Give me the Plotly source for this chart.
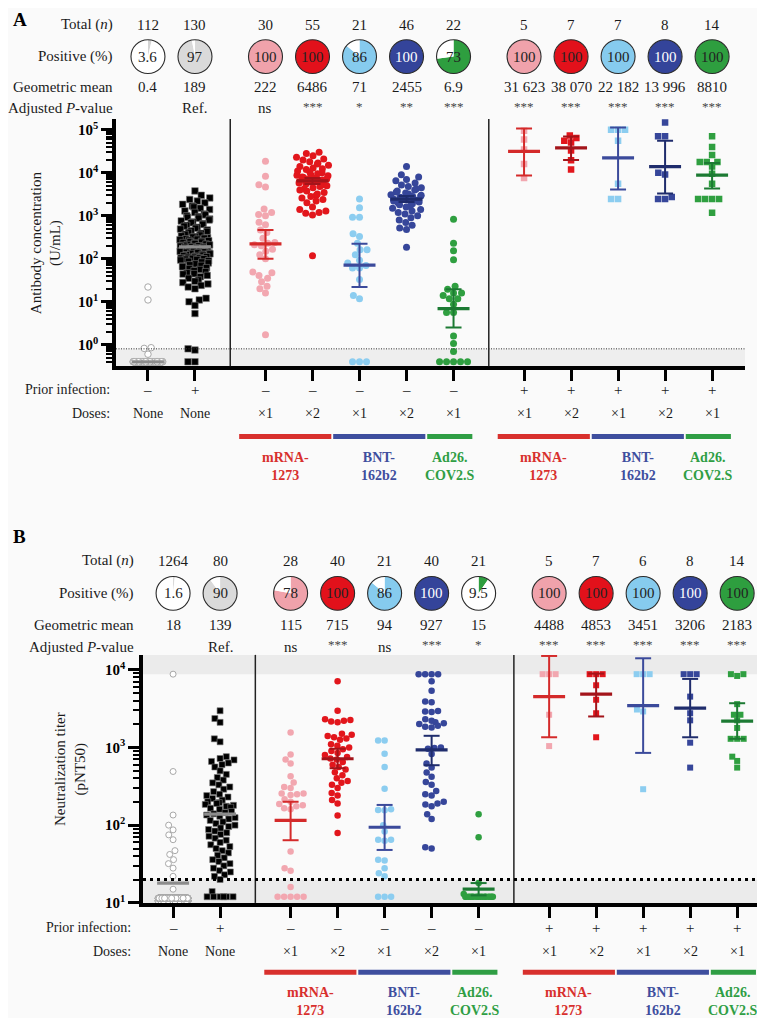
import math
import plotly.graph_objects as go

W, H = 765, 1018
FONT = "Liberation Serif"

# ---------------- data ----------------
PRIOR_INFECTION = ["–", "+", "–", "–", "–", "–", "–", "+", "+", "+", "+", "+"]
DOSES = ["None", "None", "×1", "×2", "×1", "×2", "×1", "×1", "×2", "×1", "×2", "×1"]
VACCINE_NAMES = ["mRNA-<br>1273", "BNT-<br>162b2", "Ad26.<br>COV2.S"]
ROW_LABELS = ["Total (<i>n</i>)", "Positive (%)", "Geometric mean", "Adjusted <i>P</i>-value"]

# Panel A: antibody concentration (U/mL)
A_TOTAL = [112, 130, 30, 55, 21, 46, 22, 5, 7, 7, 8, 14]
A_POSITIVE = [3.6, 97, 100, 100, 86, 100, 73, 100, 100, 100, 100, 100]
A_GMEAN = [0.4, 189, 222, 6486, 71, 2455, 6.9, 31623, 38070, 22182, 13996, 8810]
A_CI_LOW = [None, None, 100, 5500, 22, 2080, 2.5, 8700, 20000, 4100, 3300, 4300]
A_CI_HIGH = [None, None, 470, 7600, 222, 2900, 19.5, 107000, 70000, 114000, 56000, 17000]
A_PVALUE = ["", "Ref.", "ns", "***", "*", "**", "***", "***", "***", "***", "***", "***"]
A_CUTOFF = 0.8
A_AXIS_MIN = 0.316

A_NONE_NEG_VISIBLE = [22, 11, 0.85, 0.82, 0.6]
A_NONE_NEG_FLOOR = 0.4
A_NONE_NEG_FLOOR_N = 107
A_NONE_POS = [3800, 3000, 2600, 2400, 2200, 2000, 1850, 1700, 1600, 1500, 1400, 1300, 1200, 1100, 1050,
              1000, 960, 920, 880, 840, 800, 760, 720, 690, 660, 630, 600, 570, 540, 510, 490, 470, 450,
              430, 410, 390, 370, 355, 340, 330, 320, 310, 300,
              292, 285, 278, 270, 263, 256, 250, 244, 238, 232, 226, 220, 215, 210, 205, 200, 196, 192,
              188, 184, 180, 176, 172, 168, 165, 162, 158, 155, 152, 148, 145, 142, 139, 136, 133, 130,
              127, 124, 121, 118, 115, 112, 110, 108, 106, 104, 102, 100, 98, 96,
              93, 90, 87, 84, 80, 76, 72, 70, 68, 65, 62, 59, 56, 53, 50, 47, 45, 44, 41, 38, 35, 32,
              30, 28, 26, 24, 22, 20,
              12, 11, 10, 8.2, 5.3, 0.8, 0.75, 0.4, 0.4]
A_MRNA1_NEG = [18500, 8300, 5300, 4700, 1440, 1200, 1070, 1000, 710, 615, 470, 408, 300, 240, 230,
               212, 200, 167, 150, 124, 100, 49, 47, 41, 35, 29, 23, 20, 16, 1.7]
A_MRNA2_NEG = [30000, 28000, 25000, 23000, 21000, 20000, 18000, 17000, 16000, 15000, 14000, 13000,
               12500, 12000, 11000, 10500, 10000, 9500, 9000, 8800, 8500, 8000, 7800, 7500, 7200, 7000,
               6800, 6500, 6300, 6200, 6000, 5800, 5500, 5300, 5000, 4800, 4500, 4200, 4000, 3800,
               3500, 3200, 3000, 2800, 2600, 2400, 2200, 2000, 1600, 1400, 1300, 1200, 1150, 1050, 118]
A_BNT1_NEG = [2450, 1540, 920, 920, 380, 330, 230, 163, 163, 124, 92, 80, 70, 61, 61, 33, 14, 11.7,
              0.4, 0.4, 0.4]
A_BNT2_NEG = [14000, 9000, 8000, 7000, 6500, 5800, 5200, 4800, 4500, 4200, 4000, 3800, 3600, 3400,
              3200, 3100, 3000, 2900, 2800, 2700, 2600, 2500, 2450, 2400, 2350, 2300, 2200, 2100, 2000,
              1900, 1800, 1700, 1600, 1500, 1400, 1300, 1200, 1100, 1000, 900, 800, 700, 600, 520, 480, 186]
A_AD26_NEG = [830, 230, 154, 95, 23, 19.5, 16, 16, 14, 11.7, 11.7, 8.7, 5.6, 5.6, 1.6, 1.07, 0.69,
              0.4, 0.4, 0.4, 0.4, 0.4]
A_MRNA1_POS = [95000, 60000, 35000, 16000, 7600]
A_MRNA2_POS = [74000, 65000, 56000, 51000, 33000, 19500, 12000]
A_BNT1_POS = [100000, 100000, 100000, 56000, 5600, 2450, 2450]
A_BNT2_POS = [149000, 71000, 71000, 10000, 9100, 2750, 2450, 2450]
A_AD26_POS = [71000, 40000, 26000, 17800, 17800, 17800, 14000, 9500, 5600, 2450, 2450, 2450, 2450, 1180]

# Panel B: neutralization titer (pNT50)
B_TOTAL = [1264, 80, 28, 40, 21, 40, 21, 5, 7, 6, 8, 14]
B_POSITIVE = [1.6, 90, 78, 100, 86, 100, 9.5, 100, 100, 100, 100, 100]
B_GMEAN = [18, 139, 115, 715, 94, 927, 15, 4488, 4853, 3451, 3206, 2183]
B_CI_LOW = [None, None, 64, 540, 48, 590, 12.5, 1350, 2500, 850, 1350, 1290]
B_CI_HIGH = [None, None, 200, 960, 182, 1410, 18, 15000, 8900, 14000, 7600, 3700]
B_PVALUE = ["", "Ref.", "ns", "***", "ns", "***", "*", "***", "***", "***", "***", "***"]
B_LLOQ = 20
B_ULOQ = 8748
B_AXIS_MIN = 10
B_AXIS_MAX = 15500

B_NONE_NEG_VISIBLE = [8748, 490, 135, 100, 87, 75, 65, 47, 42, 36, 32, 28, 22, 15]
B_NONE_NEG_FLOOR_LEVELS = [10.6, 11.5]
B_NONE_NEG_FLOOR_COUNTS = [625, 625]
B_NONE_POS = [2960, 2350, 2100, 1290, 1180,
              760, 720, 690, 660, 630, 600, 560, 500,
              450, 410, 380, 350, 330, 310, 290, 270, 250, 240,
              230, 220, 210, 200, 195, 190, 185, 180, 175, 170,
              165, 160, 150, 145, 140, 135, 130, 125, 120, 115,
              110, 105, 100, 96, 92, 88, 84, 80, 76, 72,
              68, 64, 60, 56, 53, 50, 47, 44, 41, 38,
              36, 34, 32, 30, 28, 26, 25, 23, 22,
              20, 14, 12, 12, 12, 12, 12, 12]
B_MRNA1_NEG = [1550, 810, 700, 620, 425, 355, 310, 300, 255, 255, 250, 245, 215, 200, 187, 180, 175,
               165, 160, 46, 28, 26, 16, 12, 12, 12, 12, 12]
B_MRNA2_NEG = [7100, 2960, 2300, 2250, 2200, 2150, 2100, 1500, 1450, 1400, 1350, 1300, 1250, 1100,
               1050, 1000, 950, 900, 850, 800, 750, 720, 700, 650, 600, 560, 520, 480, 440, 400, 370,
               350, 330, 300, 260, 240, 210, 190, 133, 79]
B_BNT1_NEG = [1230, 1230, 830, 560, 295, 160, 157, 155, 100, 83, 65, 65, 63, 36, 35, 28, 24, 22,
              12, 12, 12]
B_BNT2_NEG = [8748, 8748, 8748, 8748, 7100, 5350, 3900, 3800, 2950, 2900, 2850, 2300, 2200, 2100,
              2050, 2000, 1900, 1850, 1800, 1000, 980, 960, 820, 620, 550, 475, 420, 360, 330, 275,
              250, 240, 200, 190, 185, 175, 138, 120, 52, 50]
B_AD26_NEG = [138, 70, 18, 13, 12, 12, 12, 12, 12, 12, 12, 12, 12, 12, 12, 12, 12, 12, 12, 12, 12]
B_MRNA1_POS = [8748, 8748, 8748, 2630, 1040]
B_MRNA2_POS = [8748, 8748, 8748, 6300, 4100, 2750, 1350]
B_BNT1_POS = [8748, 8748, 8748, 3070, 2900, 290]
B_BNT2_POS = [8748, 8748, 8748, 4500, 2750, 2230, 1150, 550]
B_AD26_POS = [8300, 8748, 8748, 3600, 2630, 2630, 2230, 1780, 1290, 1290, 1290, 760, 670, 550]

A_VALUES = [A_NONE_NEG_VISIBLE + [A_NONE_NEG_FLOOR] * A_NONE_NEG_FLOOR_N, A_NONE_POS,
            A_MRNA1_NEG, A_MRNA2_NEG, A_BNT1_NEG, A_BNT2_NEG, A_AD26_NEG,
            A_MRNA1_POS, A_MRNA2_POS, A_BNT1_POS, A_BNT2_POS, A_AD26_POS]
B_NONE_NEG = list(B_NONE_NEG_VISIBLE)
for lev, cnt in zip(B_NONE_NEG_FLOOR_LEVELS, B_NONE_NEG_FLOOR_COUNTS):
    B_NONE_NEG += [lev] * cnt
B_VALUES = [B_NONE_NEG, B_NONE_POS,
            B_MRNA1_NEG, B_MRNA2_NEG, B_BNT1_NEG, B_BNT2_NEG, B_AD26_NEG,
            B_MRNA1_POS, B_MRNA2_POS, B_BNT1_POS, B_BNT2_POS, B_AD26_POS]

# ---------------- layout / style ----------------
X_POS = [0, 1, 2.5, 3.5, 4.5, 5.5, 6.5, 8, 9, 10, 11, 12]
SEPARATORS = [1.75, 7.25]
VACCINE_SPANS = [(2, 3, 0), (4, 5, 1), (6, 6, 2), (7, 8, 0), (9, 10, 1), (11, 11, 2)]
VACCINE_COLORS = ["#d8302d", "#3e4e9e", "#2f9e44"]

PINK, RED, LBLUE, NAVY, GREEN = "#f2a7b0", "#e2161c", "#8ccdf0", "#36469a", "#2f9f40"
MARKER_COLORS = ["white", "black", PINK, RED, LBLUE, NAVY, GREEN, PINK, RED, LBLUE, NAVY, GREEN]
MEAN_COLORS = ["#8c8c8c", "#8c8c8c", "#d42a2a", "#a3141a", "#3b4a9b", "#1f2c6c", "#1c7a33",
               "#d42a2a", "#a3141a", "#3b4a9b", "#1f2c6c", "#1c7a33"]
PIE_COLORS = ["#d4d4d4", "#dadada", "#f0a2ab", "#e2111b", "#86cbee", "#34449a", "#2e9e3f",
              "#f0a2ab", "#e2111b", "#86cbee", "#34449a", "#2e9e3f"]
PIE_TEXT = ["#222", "#222", "#222", "#222", "#222", "white", "#222",
            "#222", "#222", "#222", "white", "#222"]
SYMBOLS = ["circle", "square", "circle", "circle", "circle", "circle", "circle",
           "square", "square", "square", "square", "square"]

PANELS = [
    dict(name="A", xa="x", ya="y", left=108, right=737, top=112, bottom=361,
         xr=(-0.68, 12.70), yr=(-0.5, 5.25), values=A_VALUES, total=A_TOTAL, pos=A_POSITIVE,
         gm=A_GMEAN, lo=A_CI_LOW, hi=A_CI_HIGH, pv=A_PVALUE,
         rows=[17, 49, 80, 101], label_right=107, letter_y=12,
         prior_y=385, doses_y=409, bar_y=432, vac_y=462, diam=7.0, csize=7, ssize=6.5,
         major=[1, 10, 100, 1000, 10000, 100000]),
    dict(name="B", xa="x2", ya="y2", left=135, right=763, top=652, bottom=902,
         xr=(-0.64, 12.72), yr=(1.0, 4.19), values=B_VALUES, total=B_TOTAL, pos=B_POSITIVE,
         gm=B_GMEAN, lo=B_CI_LOW, hi=B_CI_HIGH, pv=B_PVALUE,
         rows=[557, 590, 622, 644], label_right=128, letter_y=533,
         prior_y=927, doses_y=951, bar_y=972, vac_y=1001, diam=6.5, csize=6.5, ssize=6,
         major=[10, 100, 1000, 10000]),
]
PIE_R = 17


def fmt_gm(v):
    if v >= 10000:
        return f"{int(round(v)):,}".replace(",", " ")
    return f"{v:g}"


def swarm(values, dec_px, diam, max_half):
    """Beeswarm offsets (pixels) for one group."""
    ys = [math.log10(v) * dec_px for v in values]
    order = sorted(range(len(values)), key=lambda i: ys[i])
    placed, offs, overflow = [], [0.0] * len(values), 0
    for i in order:
        y = ys[i]
        near = [(px, pyy) for px, pyy in placed if abs(pyy - y) < diam]
        cands = [0.0]
        for px, pyy in near:
            dx = math.sqrt(diam ** 2 - (pyy - y) ** 2)
            cands += [px + dx, px - dx]
        cands.sort(key=lambda c: (abs(round(c, 6)), c))
        chosen = None
        for c in cands:
            if abs(c) > max_half:
                break
            if all((c - px) ** 2 + (pyy - y) ** 2 >= diam ** 2 - 1e-6 for px, pyy in near):
                chosen = c
                break
        if chosen is None:
            overflow += 1
            chosen = max_half * (((overflow * 0.6180339887) % 1.0) * 2 - 1)
        else:
            placed.append((chosen, y))
        offs[i] = chosen
    return offs


fig = go.Figure()
shapes, annotations = [], []


def pfy(p):
    return 1 - p / H


for P in PANELS:
    xa, ya = P["xa"], P["ya"]
    dec_px = (P["bottom"] - P["top"]) / (P["yr"][1] - P["yr"][0])
    unit_px = (P["right"] - P["left"]) / (P["xr"][1] - P["xr"][0])

    # points
    for g in range(12):
        vals = P["values"][g]
        offs = swarm(vals, dec_px, P["diam"], 16 if g > 1 else 15)
        xs = [X_POS[g] + o / unit_px for o in offs]
        if g == 0:
            mk = dict(symbol="circle", size=P["csize"] - 0.5, color="white",
                      line=dict(color="#a8a8a8", width=1))
        elif g == 1:
            mk = dict(symbol="square", size=P["ssize"], color="black",
                      line=dict(color="#777", width=0.6))
        else:
            mk = dict(symbol=SYMBOLS[g], size=P["csize"] if SYMBOLS[g] == "circle" else P["ssize"],
                      color=MARKER_COLORS[g], line=dict(width=0))
        fig.add_trace(go.Scatter(x=xs, y=vals, mode="markers", marker=mk, xaxis=xa, yaxis=ya,
                                 hoverinfo="y", showlegend=False))

    # geometric mean and 95% CI
    for g in range(12):
        x = X_POS[g]
        gm = P["gm"][g]
        if P["lo"][g] is not None:
            lo, hi = P["lo"][g], P["hi"][g]
            ex = [x, x, None, x - 0.17, x + 0.17, None, x - 0.17, x + 0.17]
            ey = [lo, hi, None, lo, lo, None, hi, hi]
            fig.add_trace(go.Scatter(x=ex, y=ey, mode="lines", xaxis=xa, yaxis=ya,
                                     line=dict(color=MEAN_COLORS[g], width=2),
                                     hoverinfo="skip", showlegend=False))
        fig.add_trace(go.Scatter(x=[x - 0.34, x + 0.34], y=[gm, gm], mode="lines", xaxis=xa, yaxis=ya,
                                 line=dict(color=MEAN_COLORS[g], width=3.2),
                                 hoverinfo="skip", showlegend=False))

    # header pies and header rows
    for g in range(12):
        cx = P["left"] + (X_POS[g] - P["xr"][0]) * unit_px
        cy = P["rows"][1]
        pos = P["pos"][g]
        fig.add_trace(go.Pie(values=[pos, 100 - pos], sort=False, direction="clockwise", rotation=0,
                             marker=dict(colors=[PIE_COLORS[g], "white"], line=dict(width=0)),
                             textinfo="none", hoverinfo="skip", showlegend=False,
                             domain=dict(x=[(cx - PIE_R) / W, (cx + PIE_R) / W],
                                         y=[pfy(cy + PIE_R), pfy(cy - PIE_R)])))
        shapes.append(dict(type="circle", xref="paper", yref="paper", layer="above",
                           x0=(cx - PIE_R) / W, x1=(cx + PIE_R) / W,
                           y0=pfy(cy + PIE_R), y1=pfy(cy - PIE_R),
                           line=dict(color="#2a2a2a", width=1.1)))
        annotations.append(dict(x=X_POS[g], y=pfy(cy), xref=xa, yref="paper", text=f"{pos:g}",
                                showarrow=False, font=dict(family=FONT, size=15, color=PIE_TEXT[g])))
        annotations.append(dict(x=X_POS[g], y=pfy(P["rows"][0]), xref=xa, yref="paper",
                                text=str(P["total"][g]), showarrow=False,
                                font=dict(family=FONT, size=15, color="#1a1a1a")))
        annotations.append(dict(x=X_POS[g], y=pfy(P["rows"][2]), xref=xa, yref="paper",
                                text=fmt_gm(P["gm"][g]), showarrow=False,
                                font=dict(family=FONT, size=15, color="#1a1a1a")))
        pv = P["pv"][g]
        if pv:
            star = pv.startswith("*")
            annotations.append(dict(x=X_POS[g], y=pfy(P["rows"][3] - (2 if star else 0)), xref=xa,
                                    yref="paper", text=pv, showarrow=False,
                                    font=dict(family=FONT, size=13 if star else 15,
                                              color="#444" if star else "#1a1a1a")))
        annotations.append(dict(x=X_POS[g], y=pfy(P["prior_y"]), xref=xa, yref="paper",
                                text=PRIOR_INFECTION[g], showarrow=False,
                                font=dict(family=FONT, size=15, color="#1a1a1a")))
        annotations.append(dict(x=X_POS[g], y=pfy(P["doses_y"]), xref=xa, yref="paper",
                                text=DOSES[g], showarrow=False,
                                font=dict(family=FONT, size=14, color="#1a1a1a")))

    # row labels
    for r, lab in zip(P["rows"], ROW_LABELS):
        annotations.append(dict(x=P["label_right"] / W, y=pfy(r), xref="paper", yref="paper",
                                xanchor="right", text=lab, showarrow=False,
                                font=dict(family=FONT, size=15, color="#1a1a1a")))
    for r, lab in [(P["prior_y"], "Prior infection:"), (P["doses_y"], "Doses:")]:
        annotations.append(dict(x=(P["label_right"] - 3) / W, y=pfy(r), xref="paper", yref="paper",
                                xanchor="right", text=lab, showarrow=False,
                                font=dict(family=FONT, size=14, color="#1a1a1a")))
    annotations.append(dict(x=3 / W, y=pfy(P["letter_y"]), xref="paper", yref="paper", xanchor="left",
                            text=f"<b>{P['name']}</b>", showarrow=False,
                            font=dict(family=FONT, size=19, color="black")))

    # vaccine bars and labels
    for first, last, v in VACCINE_SPANS:
        x0 = X_POS[first] - 0.56
        x1 = X_POS[last] + 0.40
        shapes.append(dict(type="line", xref=xa, yref="paper", x0=x0, x1=x1,
                           y0=pfy(P["bar_y"]), y1=pfy(P["bar_y"]),
                           line=dict(color=VACCINE_COLORS[v], width=5)))
        annotations.append(dict(x=(x0 + x1) / 2, y=pfy(P["vac_y"]), xref=xa, yref="paper",
                                text=f"<b>{VACCINE_NAMES[v]}</b>", showarrow=False,
                                font=dict(family=FONT, size=14, color=VACCINE_COLORS[v])))

    # separators
    for s in SEPARATORS:
        shapes.append(dict(type="line", xref=xa, yref=f"{ya} domain", x0=s, x1=s, y0=0, y1=1,
                           line=dict(color="#222", width=1.5)))

# Panel A cutoff band and line
shapes.append(dict(type="rect", xref="x domain", yref="y", x0=0, x1=1, y0=A_AXIS_MIN, y1=A_CUTOFF,
                   fillcolor="#eeeeee", line=dict(width=0), layer="below"))
shapes.append(dict(type="line", xref="x domain", yref="y", x0=0, x1=1, y0=A_CUTOFF, y1=A_CUTOFF,
                   line=dict(color="#333", width=1, dash="1px,1.5px")))
# Panel B quantification bands and line
shapes.append(dict(type="rect", xref="x2 domain", yref="y2", x0=0, x1=1, y0=B_AXIS_MIN, y1=B_LLOQ,
                   fillcolor="#ebebeb", line=dict(width=0), layer="below"))
shapes.append(dict(type="rect", xref="x2 domain", yref="y2", x0=0, x1=1, y0=B_ULOQ, y1=B_AXIS_MAX,
                   fillcolor="#ebebeb", line=dict(width=0), layer="below"))
shapes.append(dict(type="line", xref="x2 domain", yref="y2", x0=0, x1=1, y0=B_LLOQ, y1=B_LLOQ,
                   line=dict(color="black", width=3, dash="3px,4px")))

# y axis titles
annotations.append(dict(x=38 / W, y=pfy(237), xref="paper", yref="paper", textangle=-90,
                        text="Antibody concentration<br>(U/mL)", showarrow=False,
                        font=dict(family=FONT, size=15, color="#1a1a1a")))
annotations.append(dict(x=63 / W, y=pfy(767), xref="paper", yref="paper", textangle=-90,
                        text="Neutralization titer<br>(pNT50)", showarrow=False,
                        font=dict(family=FONT, size=15, color="#1a1a1a")))

for a in annotations:
    a.setdefault("xanchor", "center")
    a.setdefault("yanchor", "middle")


def ytick_text(v):
    return f"<b>10<sup>{int(round(math.log10(v)))}</sup></b>"


def minor_vals(lo_exp, hi_exp):
    out = []
    for e in range(lo_exp, hi_exp + 1):
        for k in range(2, 10):
            out.append(k * 10 ** e)
    return out


layout_axes = {}
for i, P in enumerate(PANELS):
    sfx = "" if i == 0 else "2"
    layout_axes[f"xaxis{sfx}"] = dict(
        domain=[P["left"] / W, P["right"] / W], range=list(P["xr"]), anchor=f"y{sfx}",
        showline=True, linecolor="black", linewidth=3.5, ticks="outside", tickvals=X_POS,
        ticklen=11, tickwidth=3, tickcolor="black", showticklabels=False, showgrid=False,
        zeroline=False, fixedrange=True)
    layout_axes[f"yaxis{sfx}"] = dict(
        domain=[pfy(P["bottom"]), pfy(P["top"])], type="log", range=list(P["yr"]),
        anchor=f"x{sfx}", showline=True, linecolor="black", linewidth=3.5, ticks="outside",
        tickvals=P["major"], ticktext=[ytick_text(v) for v in P["major"]], ticklen=11, tickwidth=3,
        tickcolor="black", tickfont=dict(family=FONT, size=15, color="black"), showgrid=False,
        zeroline=False, fixedrange=True,
        minor=dict(tickvals=minor_vals(-1 if i == 0 else 1, 5 if i == 0 else 3), ticks="outside",
                   ticklen=6, tickwidth=2, tickcolor="black", showgrid=False))

fig.update_layout(
    width=W, height=H, autosize=False,
    margin=dict(l=0, r=0, t=0, b=0),
    paper_bgcolor="#fafafa", plot_bgcolor="#fafafa",
    shapes=shapes, annotations=annotations, showlegend=False,
    font=dict(family=FONT, color="#1a1a1a"),
    **layout_axes,
)

fig.write_html("out.html")
